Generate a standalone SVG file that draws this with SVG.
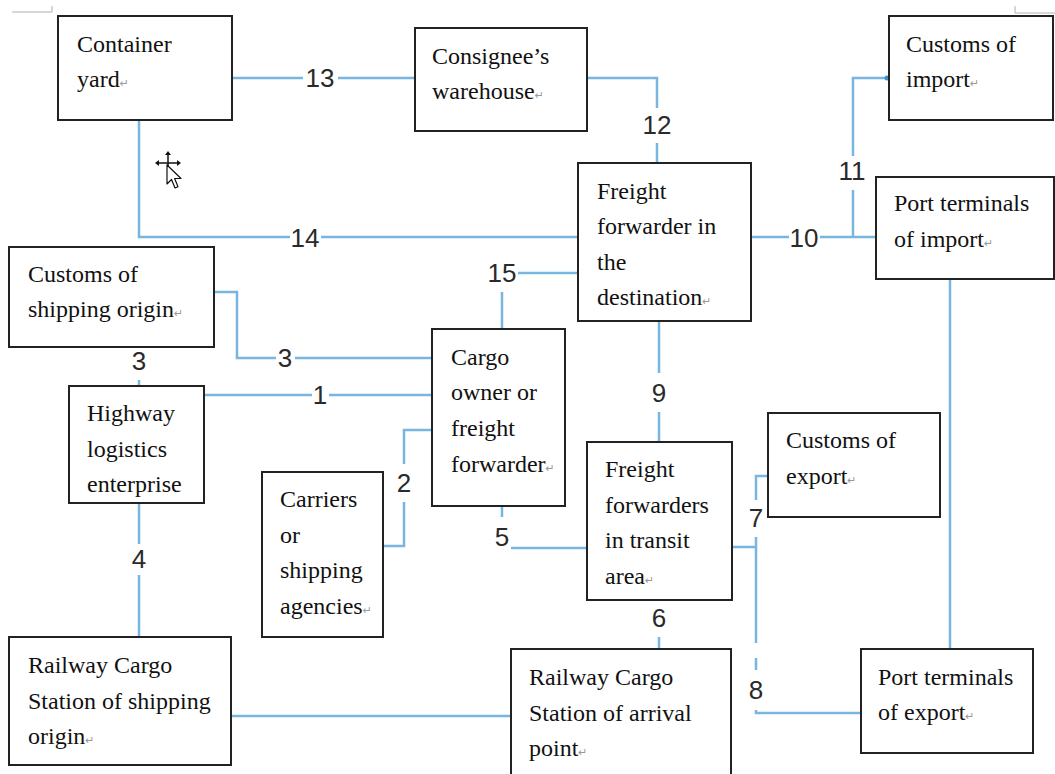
<svg xmlns="http://www.w3.org/2000/svg" width="1055" height="774" viewBox="0 0 1055 774">
<style>
.box{fill:#fff;stroke:#222;stroke-width:2}
.t{font-family:"Liberation Serif","Times New Roman",serif;font-size:24px;fill:#111}
.pm{font-family:"DejaVu Sans",sans-serif;font-size:11px;fill:#999}
.c{fill:none;stroke:#78b6df;stroke-width:2.5}
.n{font-family:"Liberation Sans",Arial,sans-serif;font-size:26px;fill:#2a2a2a;text-anchor:middle}
.mark{fill:none;stroke:#b0b0b0;stroke-width:1}
</style>
<rect width="1055" height="774" fill="#fff"/>
<path class="mark" d="M12,12 H52 V6 M1015,6 V13 H1055"/>

<g id="connectors">
<path class="c" d="M232,78 H303 M338,78 H415"/>
<path class="c" d="M587,78 H657 V108 M657,143 V163"/>
<path class="c" d="M139,120 V237 H290 M321,237 H578"/>
<path class="c" d="M751,237 H789 M820,237 H876"/>
<path class="c" d="M853,237 V190 M853,156 V78 H886"/>
<circle cx="887" cy="78" r="2.5" fill="#3a8fcf"/>
<path class="c" d="M578,273 H518 M502,292 V329"/>
<path class="c" d="M214,292 H237 V358 H276 M295,358 H432"/>
<path class="c" d="M139,380 V386"/>
<path class="c" d="M204,395 H312 M329,395 H432"/>
<path class="c" d="M432,430 H404 V464 M404,502 V546 H383"/>
<path class="c" d="M139,503 V544 M139,575 V637"/>
<path class="c" d="M502,507 V517 M511,548 H587"/>
<path class="c" d="M659,321 V373 M659,412 V441"/>
<path class="c" d="M659,637 V649"/>
<path class="c" d="M768,476 H756 V500 M732,547 H756 M756,537 V643 M756,658 V670"/>
<path class="c" d="M756,710 V713 H861"/>
<path class="c" d="M950,279 V649"/>
<path class="c" d="M231,716 H511"/>
<g id="labels">
<text class="n" x="320" y="87">13</text>
<text class="n" x="657" y="134">12</text>
<text class="n" x="305" y="247">14</text>
<text class="n" x="804" y="247">10</text>
<text class="n" x="852" y="180">11</text>
<text class="n" x="502" y="282">15</text>
<text class="n" x="285" y="367">3</text>
<text class="n" x="139" y="370">3</text>
<text class="n" x="320" y="404">1</text>
<text class="n" x="404" y="492">2</text>
<text class="n" x="139" y="568">4</text>
<text class="n" x="502" y="546">5</text>
<text class="n" x="659" y="402">9</text>
<text class="n" x="659" y="627">6</text>
<text class="n" x="756" y="527">7</text>
<text class="n" x="756" y="699">8</text>
</g>
</g>

<g id="container-yard">
<rect class="box" x="58" y="16" width="174" height="104"/>
<text class="t" x="77" y="52">Container</text>
<text class="t" x="77" y="87">yard<tspan class="pm">↵</tspan></text>
</g>
<g id="consignee-warehouse">
<rect class="box" x="415" y="28" width="172" height="103"/>
<text class="t" x="432" y="64">Consignee’s</text>
<text class="t" x="432" y="99">warehouse<tspan class="pm">↵</tspan></text>
</g>
<g id="customs-import">
<rect class="box" x="889" y="16" width="164" height="104"/>
<text class="t" x="906" y="52">Customs of</text>
<text class="t" x="906" y="87">import<tspan class="pm">↵</tspan></text>
</g>
<g id="ff-destination">
<rect class="box" x="578" y="163" width="173" height="158"/>
<text class="t" x="597" y="199">Freight</text>
<text class="t" x="597" y="234">forwarder in</text>
<text class="t" x="597" y="270">the</text>
<text class="t" x="597" y="305">destination<tspan class="pm">↵</tspan></text>
</g>
<g id="port-import">
<rect class="box" x="876" y="177" width="178" height="102"/>
<text class="t" x="894" y="211">Port terminals</text>
<text class="t" x="894" y="247">of import<tspan class="pm">↵</tspan></text>
</g>
<g id="customs-origin">
<rect class="box" x="9" y="247" width="205" height="100"/>
<text class="t" x="28" y="282">Customs of</text>
<text class="t" x="28" y="317">shipping origin<tspan class="pm">↵</tspan></text>
</g>
<g id="highway">
<rect class="box" x="69" y="386" width="135" height="117"/>
<text class="t" x="87" y="421">Highway</text>
<text class="t" x="87" y="457">logistics</text>
<text class="t" x="87" y="492">enterprise</text>
</g>
<g id="cargo-owner">
<rect class="box" x="432" y="329" width="133" height="177"/>
<text class="t" x="451" y="365">Cargo</text>
<text class="t" x="451" y="400">owner or</text>
<text class="t" x="451" y="436">freight</text>
<text class="t" x="451" y="472">forwarder<tspan class="pm">↵</tspan></text>
</g>
<g id="carriers">
<rect class="box" x="262" y="472" width="121" height="165"/>
<text class="t" x="280" y="507">Carriers</text>
<text class="t" x="280" y="543">or</text>
<text class="t" x="280" y="578">shipping</text>
<text class="t" x="280" y="614">agencies<tspan class="pm">↵</tspan></text>
</g>
<g id="ff-transit">
<rect class="box" x="587" y="442" width="145" height="158"/>
<text class="t" x="605" y="477">Freight</text>
<text class="t" x="605" y="513">forwarders</text>
<text class="t" x="605" y="548">in transit</text>
<text class="t" x="605" y="584">area<tspan class="pm">↵</tspan></text>
</g>
<g id="customs-export">
<rect class="box" x="768" y="413" width="172" height="104"/>
<text class="t" x="786" y="448">Customs of</text>
<text class="t" x="786" y="484">export<tspan class="pm">↵</tspan></text>
</g>
<g id="port-export">
<rect class="box" x="861" y="649" width="172" height="104"/>
<text class="t" x="878" y="685">Port terminals</text>
<text class="t" x="878" y="720">of export<tspan class="pm">↵</tspan></text>
</g>
<g id="railway-origin">
<rect class="box" x="9" y="637" width="222" height="128"/>
<text class="t" x="28" y="673">Railway Cargo</text>
<text class="t" x="28" y="709">Station of shipping</text>
<text class="t" x="28" y="744">origin<tspan class="pm">↵</tspan></text>
</g>
<g id="railway-arrival">
<rect class="box" x="511" y="649" width="220" height="140"/>
<text class="t" x="529" y="685">Railway Cargo</text>
<text class="t" x="529" y="721">Station of arrival</text>
<text class="t" x="529" y="756">point<tspan class="pm">↵</tspan></text>
</g>

<g id="cursor">
<path d="M157,163 H179 M168,153 V168" stroke="#111" stroke-width="1.5" fill="none"/>
<path d="M155,163 l4,-3 v6 z M181,163 l-4,-3 v6 z M168,151 l-3,4 h6 z" fill="#111"/>
<path d="M167,165 V184 L171.5,179.5 L175,188 L178,186.8 L174.6,178.5 L181,178.5 Z" fill="#fff" stroke="#111" stroke-width="1.2" stroke-linejoin="round"/>
</g>
</svg>
